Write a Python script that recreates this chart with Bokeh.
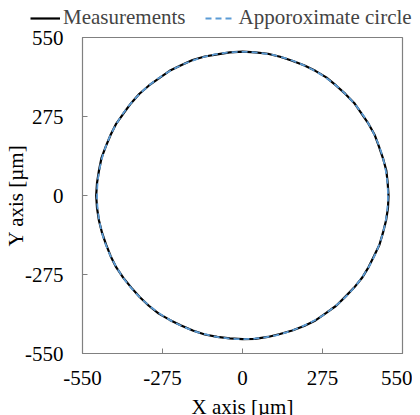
import numpy as np
from bokeh.plotting import figure
from bokeh.layouts import column
from bokeh.models import Legend, LegendItem, FixedTicker, ColumnDataSource
from bokeh.embed import file_html
from bokeh.resources import INLINE

meas_angle = [0, 5, 10, 15, 20, 25, 30, 35, 40, 45, 50, 55, 60, 65, 70, 75, 80, 85,
              90, 95, 100, 105, 110, 115, 120, 125, 130, 135, 140, 145, 150, 155, 160, 165, 170, 175,
              180, 185, 190, 195, 200, 205, 210, 215, 220, 225, 230, 235, 240, 245, 250, 255, 260, 265,
              270, 275, 280, 285, 290, 295, 300, 305, 310, 315, 320, 325, 330, 335, 340, 345, 350, 355, 360]
meas_radius = [502, 501, 502, 500, 499, 501, 500, 499, 501, 500, 500, 502, 501, 500, 499, 500, 501, 500,
               501, 500, 499, 501, 502, 500, 501, 499, 500, 501, 500, 499, 501, 500, 500, 502, 501, 502,
               503, 502, 501, 500, 499, 500, 501, 500, 499, 500, 501, 502, 500, 499, 500, 501, 500, 499,
               500, 501, 500, 499, 500, 501, 502, 500, 501, 499, 500, 501, 500, 499, 501, 500, 501, 502, 502]
# fitted circle
circle_center_x = [0]
circle_center_y = [0]
circle_radius = [500]

tick_values = [-550, -275, 0, 275, 550]
tick_labels = {-550: "-550", -275: "-275", 0: "0", 275: "275", 550: "550"}

FONT = "Liberation Serif"
FS = "21px"
BLUE = "#5b9bd5"

th = np.deg2rad(meas_angle)
r = np.array(meas_radius, dtype=float)
mx = r * np.cos(th)
my = r * np.sin(th)

# ---- main plot ----
p = figure(frame_width=320, frame_height=316, x_range=(-550, 550), y_range=(-550, 550),
           output_backend="svg", toolbar_location=None,
           min_border_left=82, min_border_right=10, min_border_top=7, min_border_bottom=10,
           x_axis_label="X axis [µm]", y_axis_label="Y axis [µm]")
p.frame_align = False

p.line(mx, my, line_color="black", line_width=2.2)
diam = [2 * v for v in circle_radius]
src = ColumnDataSource(dict(x=circle_center_x, y=circle_center_y, d=diam))
p.ellipse(x="x", y="y", width="d", height="d", source=src, fill_color=None,
          line_color=BLUE, line_width=1.8, line_dash="6 4")

p.xgrid.visible = False
p.ygrid.visible = False
p.outline_line_color = "#808080"
p.outline_line_width = 1.2

for ax in (p.xaxis[0], p.yaxis[0]):
    ax.ticker = FixedTicker(ticks=tick_values)
    ax.major_label_overrides = tick_labels
    ax.major_tick_in = 5
    ax.major_tick_out = 0
    ax.minor_tick_line_color = None
    ax.axis_line_color = "#808080"
    ax.major_tick_line_color = "#808080"
    ax.major_label_text_font = FONT
    ax.major_label_text_font_size = FS
    ax.major_label_text_color = "black"
    ax.axis_label_text_font = FONT
    ax.axis_label_text_font_size = FS
    ax.axis_label_text_font_style = "normal"
    ax.axis_label_text_color = "black"
p.xaxis.major_label_standoff = 17
p.yaxis.major_label_standoff = 19
p.xaxis.axis_label_standoff = 7
p.yaxis.axis_label_standoff = -6

# ---- legend strip ----
lg = figure(width=412, height=30, x_range=(0, 1), y_range=(0, 1),
            output_backend="svg", toolbar_location=None,
            x_axis_type=None, y_axis_type=None,
            min_border_left=0, min_border_right=0, min_border_top=0, min_border_bottom=0)
lg.frame_align = False
lg.outline_line_color = None
lg.xgrid.visible = False
lg.ygrid.visible = False
r1 = lg.line([-5, -4], [-5, -4], line_color="black", line_width=2.2)
r2 = lg.line([-5, -4], [-5, -4], line_color=BLUE, line_width=1.8, line_dash="6 4")
legend = Legend(items=[LegendItem(label="Measurements", renderers=[r1]),
                       LegendItem(label="Apporoximate circle", renderers=[r2])],
                orientation="horizontal", location=(30, 0),
                label_text_font=FONT, label_text_font_size=FS,
                glyph_width=30, glyph_height=18, label_height=18,
                label_standoff=3, spacing=20, padding=0, margin=0,
                border_line_color=None, background_fill_alpha=0)
lg.add_layout(legend, "center")

layout = column(lg, p, spacing=0)
open("out.html", "w").write(file_html(layout, INLINE))
